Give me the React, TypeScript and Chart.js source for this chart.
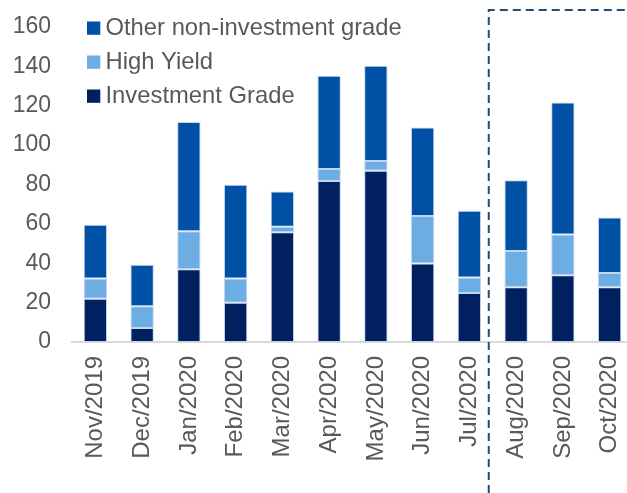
import React, { useEffect, useRef } from "react";
import { Chart, registerables } from "chart.js";

Chart.register(...registerables);

const categories = [
  "Nov/2019", "Dec/2019", "Jan/2020", "Feb/2020", "Mar/2020", "Apr/2020",
  "May/2020", "Jun/2020", "Jul/2020", "Aug/2020", "Sep/2020", "Oct/2020",
];
const investmentGrade = [22, 7.1, 37, 20, 55.8, 81.8, 87, 39.9, 24.9, 27.8, 33.9, 27.8];
const highYield = [10.3, 11.1, 19.3, 12.3, 2.7, 6.1, 5, 24.1, 7.9, 18.4, 20.7, 7.2];
const otherNonIG = [27.2, 21, 55.5, 47.6, 18, 47.3, 48.3, 45, 33.9, 35.9, 67, 28.3];
const yTicks = [0, 20, 40, 60, 80, 100, 120, 140, 160];

const FONT = "'Liberation Sans', Arial, sans-serif";
const TEXT = "#595959";
const C_OTHER = "#0051A5";
const C_HY = "#6CAEE3";
const C_IG = "#00205F";

const overlayPlugin = {
  id: "overlay",
  afterDraw(chart: any) {
    const ctx = chart.ctx;
    const area = chart.chartArea;
    const x = chart.scales.x;
    // dashed box marking the last quarter
    const lx = (x.getPixelForValue(8) + x.getPixelForValue(9)) / 2 - 4;
    ctx.save();
    ctx.strokeStyle = "#1F4E79";
    ctx.lineWidth = 2;
    ctx.setLineDash([8, 5]);
    ctx.beginPath();
    ctx.moveTo(lx, chart.height);
    ctx.lineTo(lx, 10);
    ctx.lineTo(chart.width, 10);
    ctx.stroke();
    ctx.restore();

    // legend (inside plot area, top-left)
    const items = [
      { label: "Other non-investment grade", color: C_OTHER },
      { label: "High Yield", color: C_HY },
      { label: "Investment Grade", color: C_IG },
    ];
    ctx.save();
    ctx.font = `23.8px ${FONT}`;
    ctx.textBaseline = "middle";
    ctx.textAlign = "left";
    items.forEach((it, i) => {
      const cy = area.top + 1 + i * 34;
      ctx.fillStyle = it.color;
      ctx.fillRect(area.left + 15, cy - 6.5, 13.3, 13.3);
      ctx.fillStyle = TEXT;
      ctx.fillText(it.label, area.left + 33.5, cy + 0.5);
    });
    ctx.restore();
  },
};

export default function App() {
  const ref = useRef<HTMLCanvasElement | null>(null);
  useEffect(() => {
    if (!ref.current) return;
    const mk = (label: string, data: number[], color: string) => ({
      label,
      data,
      backgroundColor: color,
      borderColor: "rgba(190,210,235,0.9)",
      borderWidth: 1,
      borderSkipped: false as const,
      categoryPercentage: 1,
      barPercentage: 0.5,
    });
    const chart = new Chart(ref.current, {
      type: "bar",
      data: {
        labels: categories,
        datasets: [
          mk("Investment Grade", investmentGrade, C_IG),
          mk("High Yield", highYield, C_HY),
          mk("Other non-investment grade", otherNonIG, C_OTHER),
        ],
      },
      options: {
        animation: false,
        responsive: false,
        maintainAspectRatio: false,
        layout: { padding: { top: 27, right: 0, bottom: 0, left: 0 } },
        plugins: { legend: { display: false }, tooltip: { enabled: false } },
        scales: {
          x: {
            stacked: true,
            grid: { display: false, drawTicks: false },
            border: { display: true, color: "#D9D9D9", width: 2 },
            ticks: {
              color: TEXT,
              font: { family: FONT, size: 24 },
              maxRotation: 90,
              minRotation: 90,
              padding: 14,
              autoSkip: false,
            },
            afterFit: (s: any) => {
              s.height = 151;
              s.paddingLeft = 0;
              s.paddingRight = 0;
            },
          },
          y: {
            stacked: true,
            min: 0,
            max: 160,
            afterBuildTicks: (s: any) => { s.ticks = yTicks.map((v) => ({ value: v })); },
            grid: { display: false, drawTicks: false },
            border: { display: false },
            ticks: {
              color: TEXT,
              font: { family: FONT, size: 23 },
              padding: 21,
            },
            afterFit: (s: any) => {
              s.width = 72;
              s.paddingTop = 0;
              s.paddingBottom = 0;
            },
          },
        },
      },
      plugins: [overlayPlugin],
    });
    return () => chart.destroy();
  }, []);
  return (
    <div style={{ position: "fixed", left: 0, top: 0, width: 633, height: 493, background: "#fff" }}>
      <canvas ref={ref} width={633} height={493} style={{ display: "block" }} />
    </div>
  );
}
